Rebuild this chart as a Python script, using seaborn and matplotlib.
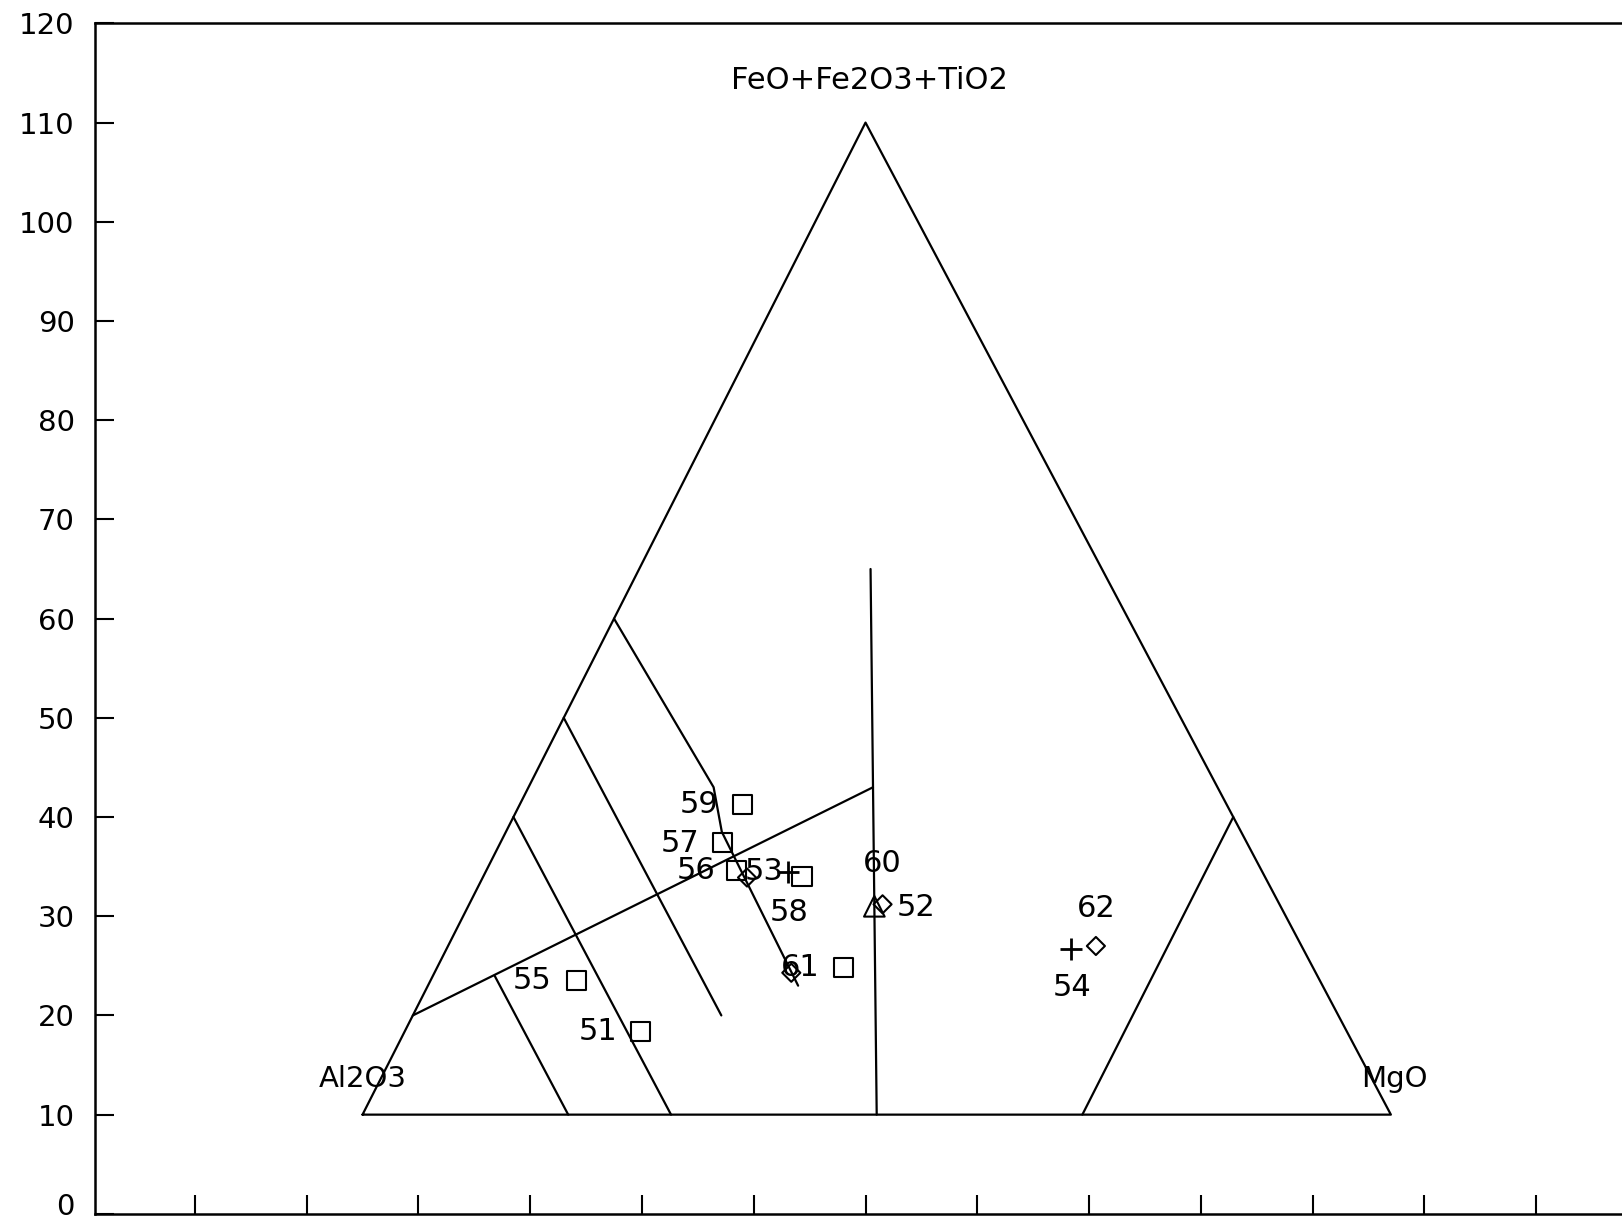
import matplotlib
matplotlib.use("Agg")
import matplotlib.pyplot as plt
import matplotlib.transforms as mtransforms
import seaborn as sns
import pandas as pd

# ---------------------
# Data (ternary percentages: Al2O3, FeO+Fe2O3+TiO2, MgO)
# ---------------------
sample_ids = ["51", "52", "53", "54", "55", "56", "57", "58", "59", "60", "61", "62"]
al2o3 = [68.7, 38.6, 46.1, 22.6, 72.3, 51.1, 51.0, 45.0, 47.1, 39.5, 45.7, 20.0]
feo_t = [8.4, 21.2, 24.5, 16.7, 13.5, 24.6, 27.4, 24.0, 31.3, 21.0, 14.8, 17.0]
mgo = [22.9, 40.2, 29.4, 60.7, 14.2, 24.3, 21.6, 31.0, 21.6, 39.5, 39.5, 63.0]
symbol = ["square", "diamond", "plus", "plus", "square", "square", "square",
          "square", "square", "triangle", "square", "diamond"]

# unlabelled diamonds
extra_al2o3 = [50.4, 51.0]
extra_feo_t = [23.9, 14.3]
extra_mgo = [25.7, 34.7]

# classification lines (Al2O3, FeO+Fe2O3+TiO2, MgO)
frame = [(100, 0, 0), (0, 100, 0), (0, 0, 100), (100, 0, 0)]
line_al_eq_mg = [(50, 0, 50), (22.5, 55, 22.5)]
line_th_ca = [(90, 10, 0), (33.5, 33, 33.5)]
line_mg70 = [(30, 0, 70), (0, 30, 70)]
line_al80 = [(80, 0, 20), (80, 14, 6)]
line_al70 = [(70, 0, 30), (70, 30, 0)]
line_al60 = [(60, 40, 0), (60, 10, 30)]
line_al50 = [(50, 50, 0), (49, 33, 18), (50.5, 28.5, 21), (51, 13, 36)]

# ---------------------
# Layout
# ---------------------
V_AL = (25.0, 10.0)
V_FE = (70.0, 110.0)
V_MG = (117.0, 10.0)


def to_xy(a, f, m):
    s = a + f + m
    a, f, m = a / s, f / s, m / s
    x = a * V_AL[0] + f * V_FE[0] + m * V_MG[0]
    y = a * V_AL[1] + f * V_FE[1] + m * V_MG[1]
    return x, y


label_offsets = {
    "51": (-42, 0), "52": (34, -3), "53": (-24, 0), "54": (1, -39),
    "55": (-44, 0), "56": (-40, 0), "57": (-42, -1), "58": (-13, -36),
    "59": (-43, 0), "60": (8, 43), "61": (-43, 0), "62": (0, 37),
}

marker_styles = {
    "square": dict(marker="s", s=190, facecolor="none", edgecolor="black", linewidth=1.5),
    "diamond": dict(marker="D", s=85, facecolor="none", edgecolor="black", linewidth=1.5),
    "plus": dict(marker="+", s=230, color="black", linewidth=2.0),
    "triangle": dict(marker="^", s=220, facecolor="none", edgecolor="black", linewidth=1.5),
}

sns.set_style("ticks")
plt.rcParams["font.family"] = ["DejaVu Sans"]
plt.rcParams["text.color"] = "black"
plt.rcParams["xtick.color"] = "black"
plt.rcParams["ytick.color"] = "black"

fig = plt.figure(figsize=(16.22, 12.24), dpi=100)
ax = fig.add_axes([0.0588, 0.0083, 0.9641, 0.9726])

# triangle + field boundaries
for pts in [frame, line_al_eq_mg, line_th_ca, line_mg70, line_al80, line_al70, line_al60, line_al50]:
    xy = [to_xy(*p) for p in pts]
    seg = pd.DataFrame(xy, columns=["x", "y"])
    sns.lineplot(data=seg, x="x", y="y", sort=False, estimator=None,
                 color="black", linewidth=1.6, ax=ax)

# samples
df = pd.DataFrame({"id": sample_ids, "al": al2o3, "fe": feo_t, "mg": mgo, "sym": symbol})
df["x"], df["y"] = zip(*[to_xy(a, f, m) for a, f, m in zip(df["al"], df["fe"], df["mg"])])

for sym, grp in df.groupby("sym"):
    sns.scatterplot(data=grp, x="x", y="y", ax=ax, zorder=3, **marker_styles[sym])

ex = pd.DataFrame([to_xy(a, f, m) for a, f, m in zip(extra_al2o3, extra_feo_t, extra_mgo)],
                  columns=["x", "y"])
sns.scatterplot(data=ex, x="x", y="y", ax=ax, zorder=3, **marker_styles["diamond"])

for _, r in df.iterrows():
    ax.annotate(r["id"], (r["x"], r["y"]), xytext=label_offsets[r["id"]],
                textcoords="offset pixels", ha="center", va="center",
                fontsize=22, color="black")

# vertex labels
ax.annotate("Al2O3", V_AL, xytext=(0, 36), textcoords="offset pixels",
            ha="center", va="center", fontsize=21, color="black")
ax.annotate("MgO", V_MG, xytext=(3, 36), textcoords="offset pixels",
            ha="center", va="center", fontsize=21, color="black")
ax.annotate("FeO+Fe2O3+TiO2", V_FE, xytext=(4, 42), textcoords="offset pixels",
            ha="center", va="center", fontsize=22, color="black")

# axes
ax.set_xlim(1.1, 141)
ax.set_ylim(0, 120)
ax.set_xticks(range(10, 140, 10))
ax.set_yticks(range(0, 130, 10))
ax.tick_params(axis="both", direction="in", length=14, width=1.5, labelsize=21,
               colors="black")
ax.tick_params(axis="y", pad=15)
ax.tick_params(axis="x", labelbottom=False)
ax.set_xlabel("")
ax.set_ylabel("")
for sp in ax.spines.values():
    sp.set_linewidth(1.8)
    sp.set_color("black")

# lift the "0" label a little so it stays inside the canvas
zero_lbl = ax.yaxis.get_major_ticks()[0].label1
zero_lbl.set_transform(zero_lbl.get_transform()
                       + mtransforms.ScaledTranslation(0, 7 / 72, fig.dpi_scale_trans))

fig.savefig("out.png", dpi=100)
